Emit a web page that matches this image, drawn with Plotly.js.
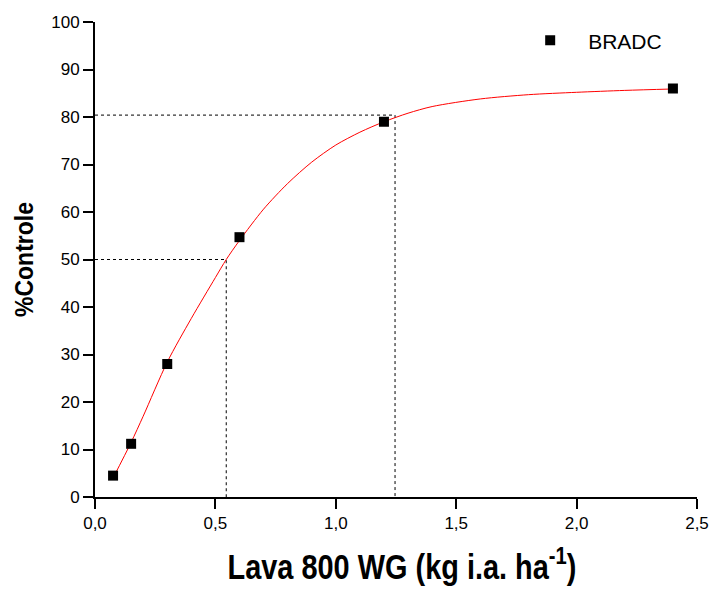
<!DOCTYPE html>
<html>
<head>
<meta charset="utf-8">
<script src="https://cdn.plot.ly/plotly-3.0.1.min.js"></script>
<style>html,body{margin:0;padding:0;background:#fff;}#chart{width:712px;height:592px;}</style>
</head>
<body>
<div id="chart"></div>
<script>
// Observed data (BRADC)
var doseX = [0.075, 0.15, 0.3, 0.6, 1.2, 2.4];
var controlY = [4.5, 11.2, 28, 54.7, 79, 86];
// Fitted curve
var curveX = [0.075, 0.15, 0.2, 0.3, 0.4, 0.5, 0.545, 0.6, 0.7, 0.8, 0.9, 1.0, 1.1, 1.2, 1.3, 1.4, 1.6, 1.8, 2.0, 2.2, 2.4];
var curveY = [4.0, 11.5, 17.0, 28.4, 37.6, 46.2, 50.0, 54.0, 60.6, 66.0, 70.5, 74.1, 76.8, 79.0, 80.8, 82.2, 83.8, 84.7, 85.2, 85.6, 85.9];
// Reference levels (dose, %control)
var level50 = [0.545, 50];
var level80 = [1.246, 80.4];
var xTicks = [0, 0.5, 1.0, 1.5, 2.0, 2.5];
var xTickLabels = ['0,0', '0,5', '1,0', '1,5', '2,0', '2,5'];
var yTicks = [0, 10, 20, 30, 40, 50, 60, 70, 80, 90, 100];

var dotLine = {color: '#000', width: 1, dash: 'dot'};
function guide(lv) {
  return {
    x: [0, lv[0], lv[0]], y: [lv[1], lv[1], 0],
    mode: 'lines', line: dotLine, showlegend: false, hoverinfo: 'skip'
  };
}

var traces = [
  guide(level50),
  guide(level80),
  {x: curveX, y: curveY, mode: 'lines', line: {color: '#ff0000', width: 1, shape: 'spline', smoothing: 0.8}, showlegend: false},
  {x: doseX, y: controlY, mode: 'markers', name: 'BRADC',
   marker: {symbol: 'square', size: 10, color: '#000'}, cliponaxis: false}
];

var layout = {
  width: 712, height: 592,
  margin: {l: 95, r: 15, t: 22, b: 94.5},
  paper_bgcolor: '#fff', plot_bgcolor: '#fff',
  font: {family: 'Liberation Sans, Arial, sans-serif', color: '#000', size: 17},
  showlegend: true,
  legend: {x: 0.693, y: 0.9607, xanchor: 'left', yanchor: 'middle', bgcolor: 'rgba(0,0,0,0)',
           font: {size: 21, family: 'Liberation Sans, Arial, sans-serif'}, itemwidth: 66},
  xaxis: {
    range: [0, 2.5], tickvals: xTicks, ticktext: xTickLabels,
    showgrid: false, zeroline: false, showline: true, linecolor: '#000', linewidth: 2,
    ticks: 'outside', ticklen: 10, tickwidth: 2, tickcolor: '#000',
    tickfont: {size: 17},
    title: {text: 'Lava 800 WG (kg i.a. ha<sup>-1</sup>)', standoff: 22,
            font: {family: 'Liberation Sans, Arial, sans-serif', size: 35, weight: 'bold'}}
  },
  yaxis: {
    range: [0, 100], tickvals: yTicks,
    showgrid: false, zeroline: false, showline: true, linecolor: '#000', linewidth: 2,
    ticks: 'outside', ticklen: 10, tickwidth: 2, tickcolor: '#000',
    tickfont: {size: 17},
    title: {text: '%Controle', standoff: 10,
            font: {family: 'Liberation Sans, Arial, sans-serif', size: 25, weight: 'bold'}}
  }
};

// Condense a title horizontally (along its own text direction) to a target length
function condense(sel, targetLen, dx) {
  var el = document.querySelector(sel);
  if (!el) return;
  var bb = el.getBBox();
  var len = bb.width;
  if (!len) return;
  var s = targetLen / len;
  var x = parseFloat(el.getAttribute('x')) || 0;
  var y = parseFloat(el.getAttribute('y')) || 0;
  var t = el.getAttribute('transform') || '';
  el.setAttribute('transform', t + ' translate(' + (x + dx) + ',' + y + ') scale(' + s + ',1) translate(' + (-x) + ',' + (-y) + ')');
}

Plotly.newPlot('chart', traces, layout, {staticPlot: true, displayModeBar: false}).then(function () {
  condense('.g-xtitle text', 349, 6);
  condense('.g-ytitle text', 115, 0);
});
</script>
</body>
</html>
